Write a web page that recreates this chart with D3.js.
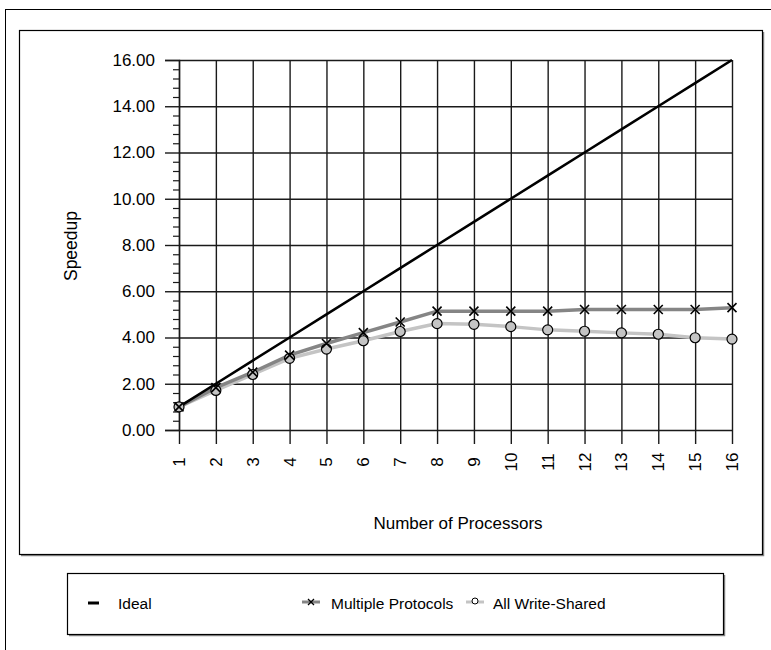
<!DOCTYPE html>
<html>
<head>
<meta charset="utf-8">
<script src="https://cdn.jsdelivr.net/npm/d3@7"></script>
<style>
  html, body { margin: 0; padding: 0; background: #fff; }
  svg { display: block; font-family: "Liberation Sans", Arial, sans-serif; }
</style>
</head>
<body>
<svg id="chart" width="771" height="650"></svg>
<script>
const categories = ["1","2","3","4","5","6","7","8","9","10","11","12","13","14","15","16"];
const ideal = [1,2,3,4,5,6,7,8,9,10,11,12,13,14,15,16];
const multipleProtocols = [1.0,1.83,2.5,3.24,3.74,4.21,4.67,5.14,5.14,5.14,5.14,5.21,5.21,5.21,5.21,5.29];
const allWriteShared = [1.0,1.71,2.4,3.1,3.5,3.86,4.26,4.6,4.57,4.47,4.33,4.27,4.2,4.14,3.99,3.93];
const yTicks = [0,2,4,6,8,10,12,14,16];
const seriesNames = ["Ideal","Multiple Protocols","All Write-Shared"];

const svg = d3.select("#chart");
svg.append("rect").attr("width",771).attr("height",650).attr("fill","#fff");

// outer frame (extends past viewport)
svg.append("rect").attr("x",5.5).attr("y",9.5).attr("width",900).attr("height",900)
  .attr("fill","none").attr("stroke","#000").attr("stroke-width",1);

function box(x,y,w,h){
  svg.append("path").attr("d",`M${x+w+1.5},${y+2}V${y+h+1.5}H${x+2}`)
    .attr("fill","none").attr("stroke","#888").attr("stroke-width",1.5);
  svg.append("rect").attr("x",x+0.5).attr("y",y+0.5).attr("width",w).attr("height",h)
    .attr("fill","none").attr("stroke","#000").attr("stroke-width",1.2);
}
box(19,30,743,524);

const x = d3.scalePoint().domain(categories).range([179,732]);
const y = d3.scaleLinear().domain([0,16]).range([430,60]);

const gridColor = "#1a1a1a";
const fs = 17;
const gy = svg.append("g").attr("transform","translate(179,0)")
  .call(d3.axisLeft(y).tickValues(yTicks).tickSizeInner(-(732-179)).tickSizeOuter(0).tickFormat(""));
gy.select(".domain").remove();
gy.selectAll("line").attr("stroke",gridColor).attr("stroke-width",1.4);

const ya = svg.append("g").attr("transform","translate(179,0)")
  .call(d3.axisLeft(y).tickValues(yTicks).tickSize(14).tickPadding(10).tickFormat(d3.format(".2f")));
ya.select(".domain").attr("stroke",gridColor).attr("stroke-width",1.4);
ya.selectAll("line").attr("stroke",gridColor).attr("stroke-width",1.4);
ya.selectAll("text").attr("font-size",fs).attr("fill","#000")
  .attr("font-family","Liberation Sans, Arial, sans-serif");

const minor = d3.range(0,16.001,0.4).filter(v => Math.abs(v/2 - Math.round(v/2)) > 1e-6);
const ym = svg.append("g").attr("transform","translate(179,0)")
  .call(d3.axisLeft(y).tickValues(minor).tickSize(6).tickFormat(""));
ym.select(".domain").remove();
ym.selectAll("line").attr("stroke",gridColor).attr("stroke-width",1.2);

const xa = svg.append("g").attr("transform","translate(0,444)")
  .call(d3.axisBottom(x).tickSizeInner(-(444-60)).tickSizeOuter(0).tickPadding(0));
xa.select(".domain").remove();
xa.selectAll("line").attr("stroke",gridColor).attr("stroke-width",1.4);
xa.selectAll("text")
  .attr("font-size",fs).attr("fill","#000")
  .attr("font-family","Liberation Sans, Arial, sans-serif")
  .attr("text-anchor","middle").attr("dy",null).attr("y",null)
  .attr("dominant-baseline","central")
  .attr("transform","translate(0,18) rotate(-90)");

svg.append("text").attr("transform","translate(77,246) rotate(-90)")
  .attr("text-anchor","middle").attr("font-size",17.5).text("Speedup");
svg.append("text").attr("x",458).attr("y",529)
  .attr("text-anchor","middle").attr("font-size",17).text("Number of Processors");

const line = d3.line().x((d,i)=>x(categories[i])).y(d=>y(d));
svg.append("path").datum(allWriteShared).attr("d",line)
  .attr("fill","none").attr("stroke","#c4c4c4").attr("stroke-width",3.5);
svg.append("path").datum(multipleProtocols).attr("d",line)
  .attr("fill","none").attr("stroke","#858585").attr("stroke-width",3.5);
svg.append("path").datum(ideal).attr("d",line)
  .attr("fill","none").attr("stroke","#000").attr("stroke-width",2.6);

svg.append("g").selectAll("circle").data(allWriteShared).join("circle")
  .attr("cx",(d,i)=>x(categories[i])).attr("cy",d=>y(d)).attr("r",5)
  .attr("fill","#c4c4c4").attr("stroke","#000").attr("stroke-width",1.2);
const cross = (cx,cy,s) => `M${cx-s},${cy-s}L${cx+s},${cy+s}M${cx-s},${cy+s}L${cx+s},${cy-s}`;
svg.append("g").selectAll("path").data(multipleProtocols).join("path")
  .attr("d",(d,i)=>cross(x(categories[i]),y(d),4.5))
  .attr("stroke","#000").attr("stroke-width",1.6).attr("fill","none");

box(67,573,656,61);
const ly = 603;
const lfs = 15.5;
svg.append("line").attr("x1",88).attr("x2",99).attr("y1",ly).attr("y2",ly)
  .attr("stroke","#000").attr("stroke-width",3);
svg.append("text").attr("x",118).attr("y",ly+6).attr("font-size",lfs).text(seriesNames[0]);

svg.append("line").attr("x1",302).attr("x2",320).attr("y1",ly-1).attr("y2",ly-1)
  .attr("stroke","#858585").attr("stroke-width",3);
svg.append("path").attr("d",cross(311,ly-1,3)).attr("stroke","#000").attr("stroke-width",1.3);
svg.append("text").attr("x",331).attr("y",ly+6).attr("font-size",lfs).text(seriesNames[1]);

svg.append("line").attr("x1",466).attr("x2",484).attr("y1",ly-1).attr("y2",ly-1)
  .attr("stroke","#c4c4c4").attr("stroke-width",3);
svg.append("circle").attr("cx",475).attr("cy",ly-2).attr("r",3)
  .attr("fill","#fff").attr("stroke","#000").attr("stroke-width",1);
svg.append("text").attr("x",493).attr("y",ly+6).attr("font-size",lfs).text(seriesNames[2]);
</script>
</body>
</html>
